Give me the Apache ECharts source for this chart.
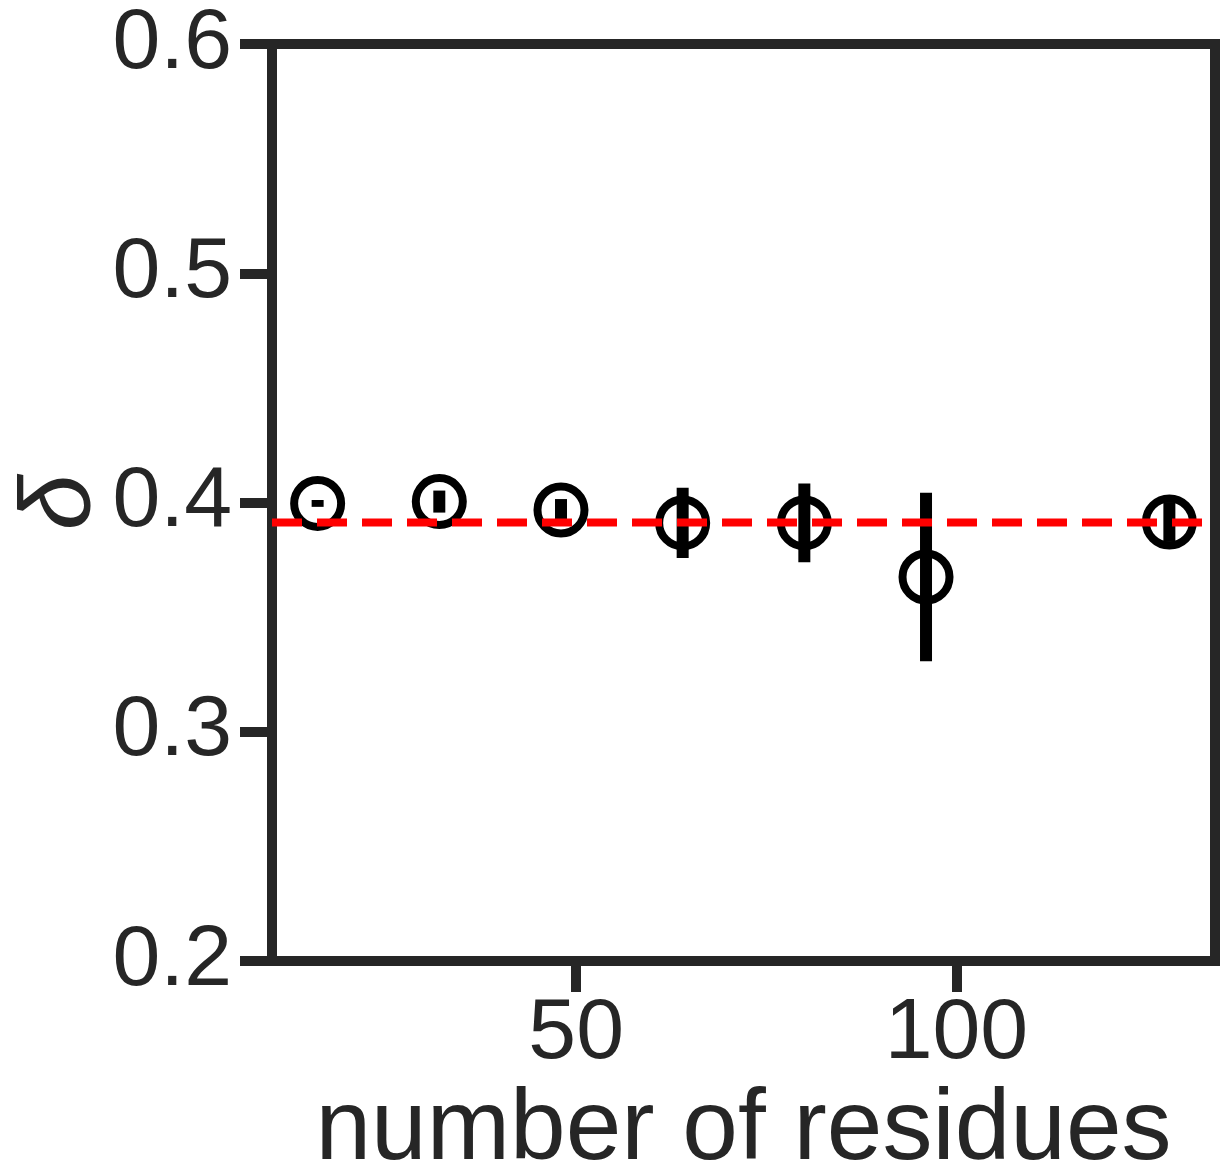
<!DOCTYPE html>
<html>
<head>
<meta charset="utf-8">
<script src="https://cdn.jsdelivr.net/npm/echarts@6/dist/echarts.min.js"></script>
<style>
  html, body { margin: 0; padding: 0; background: #fff; }
  #chart { width: 1221px; height: 1165px; }
</style>
</head>
<body>
<div id="chart"></div>
<script>
// number of residues
var residues = [16, 32, 48, 64, 80, 96, 128]
// delta values and their error bar half widths
var delta = [0.3996, 0.4004, 0.3967, 0.3911, 0.3911, 0.3675, 0.3915]
var deltaErr = [0.0015, 0.0048, 0.0048, 0.0153, 0.0172, 0.0368, 0.0087]
// reference level (dashed red)
var deltaRef = 0.3913
var xRange = [10, 134]
var xTicks = [50, 100]
var yTicks = [0.2, 0.3, 0.4, 0.5, 0.6]

var ink = '#262626'
var font = '"Liberation Sans", Arial, sans-serif'

var points = residues.map(function (r, i) { return [r, delta[i]] })
var bars = residues.map(function (r, i) { return [r, delta[i] - deltaErr[i], delta[i] + deltaErr[i]] })

var chart = echarts.init(document.getElementById('chart'))

chart.setOption({
  animation: false,
  backgroundColor: '#fff',
  grid: {
    left: 272,
    right: 6,
    top: 44,
    bottom: 204,
    containLabel: false,
    outerBoundsMode: 'none',
    show: true,
    borderColor: ink,
    borderWidth: 10,
    backgroundColor: 'transparent'
  },
  xAxis: {
    type: 'value',
    min: xRange[0],
    max: xRange[1],
    name: 'number of residues',
    nameLocation: 'middle',
    nameGap: 120,
    nameMoveOverlap: false,
    nameTextStyle: { fontSize: 100, color: ink, fontFamily: font },
    splitLine: { show: false },
    axisLine: { show: false },
    axisTick: {
      show: true,
      customValues: xTicks,
      length: 31,
      lineStyle: { color: ink, width: 10 }
    },
    axisLabel: {
      customValues: xTicks,
      margin: 30,
      fontSize: 86,
      color: ink,
      fontFamily: font
    }
  },
  yAxis: {
    type: 'value',
    min: yTicks[0],
    max: yTicks[yTicks.length - 1],
    interval: 0.1,
    name: 'δ',
    nameLocation: 'middle',
    nameRotate: 90,
    nameGap: 160,
    nameMoveOverlap: false,
    nameTextStyle: { fontSize: 100, fontStyle: 'italic', color: ink, fontFamily: font },
    splitLine: { show: false },
    axisLine: { show: false },
    axisTick: {
      show: true,
      length: 32,
      lineStyle: { color: ink, width: 10 }
    },
    axisLabel: {
      margin: 40,
      fontSize: 86,
      color: ink,
      fontFamily: font,
      formatter: function (v) { return v.toFixed(1) }
    }
  },
  series: [
    {
      type: 'custom',
      data: bars,
      z: 3,
      renderItem: function (params, api) {
        var top = api.coord([api.value(0), api.value(2)])
        var bot = api.coord([api.value(0), api.value(1)])
        return {
          type: 'line',
          shape: { x1: top[0], y1: top[1], x2: bot[0], y2: bot[1] },
          style: { stroke: '#000', lineWidth: 12 }
        }
      }
    },
    {
      type: 'scatter',
      data: points,
      z: 4,
      symbol: 'circle',
      symbolSize: 47,
      itemStyle: { color: 'transparent', borderColor: '#000', borderWidth: 8, opacity: 1 }
    },
    {
      type: 'line',
      data: [[xRange[0], deltaRef], [xRange[1], deltaRef]],
      z: 5,
      symbol: 'none',
      lineStyle: { color: '#ff0000', width: 8, type: [30, 15] }
    }
  ]
})
</script>
</body>
</html>
